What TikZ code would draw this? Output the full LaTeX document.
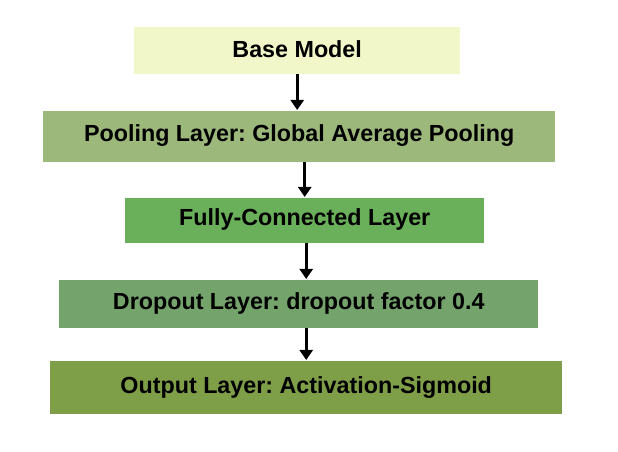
\documentclass[tikz,border=0pt]{standalone}
\usepackage{fontspec}
\setmainfont{Liberation Sans}
\usetikzlibrary{arrows.meta}
\frenchspacing
\definecolor{cA}{HTML}{F2F7C9}
\definecolor{cB}{HTML}{9CB87A}
\definecolor{cC}{HTML}{6AAF5A}
\definecolor{cD}{HTML}{74A46C}
\definecolor{cE}{HTML}{7E9E48}
\tikzset{
  layer/.style={draw=none, inner sep=0pt, anchor=north west},
  lbl/.style={font=\bfseries\fontsize{23.3}{26}\selectfont, text=black, inner sep=0pt},
  flow/.style={line width=2.6pt, -{Triangle[length=10pt,width=13pt]}}
}
\begin{document}
\frenchspacing
\begin{tikzpicture}[x=1pt,y=1pt]
\useasboundingbox (0,0) rectangle (618,452);
\node[layer, fill=cA, minimum width=326pt, minimum height=47pt] (b1) at (134,425) {};
\node[lbl] (t1) at ([yshift=2pt]b1.center) {Base Model};
\node[layer, fill=cB, minimum width=512pt, minimum height=51pt] (b2) at (43,341) {};
\node[lbl] (t2) at ([yshift=1pt]b2.center) {Pooling Layer: Global Average Pooling};
\node[layer, fill=cC, minimum width=359pt, minimum height=45pt] (b3) at (125,254) {};
\node[lbl] (t3) at ([yshift=1pt]b3.center) {Fully-Connected Layer};
\node[layer, fill=cD, minimum width=479pt, minimum height=48pt] (b4) at (59,172) {};
\node[lbl] (t4) at ([yshift=1pt]b4.center) {Dropout Layer: dropout factor 0.4};
\node[layer, fill=cE, minimum width=512pt, minimum height=53pt] (b5) at (50,91) {};
\node[lbl] (t5) at (b5.center) {Output Layer: Activation-Sigmoid};
\draw[flow] (b1.south) -- ([yshift=1pt]b1.south |- b2.north);
\draw[flow] (b2.south -| b3.north) -- ([yshift=1pt]b3.north);
\draw[flow] ([xshift=1.5pt]b3.south) -- ([xshift=1.5pt,yshift=1pt]b3.south |- b4.north);
\draw[flow] (b4.south -| b5.north) -- ([yshift=1pt]b5.north);
\end{tikzpicture}
\end{document}
